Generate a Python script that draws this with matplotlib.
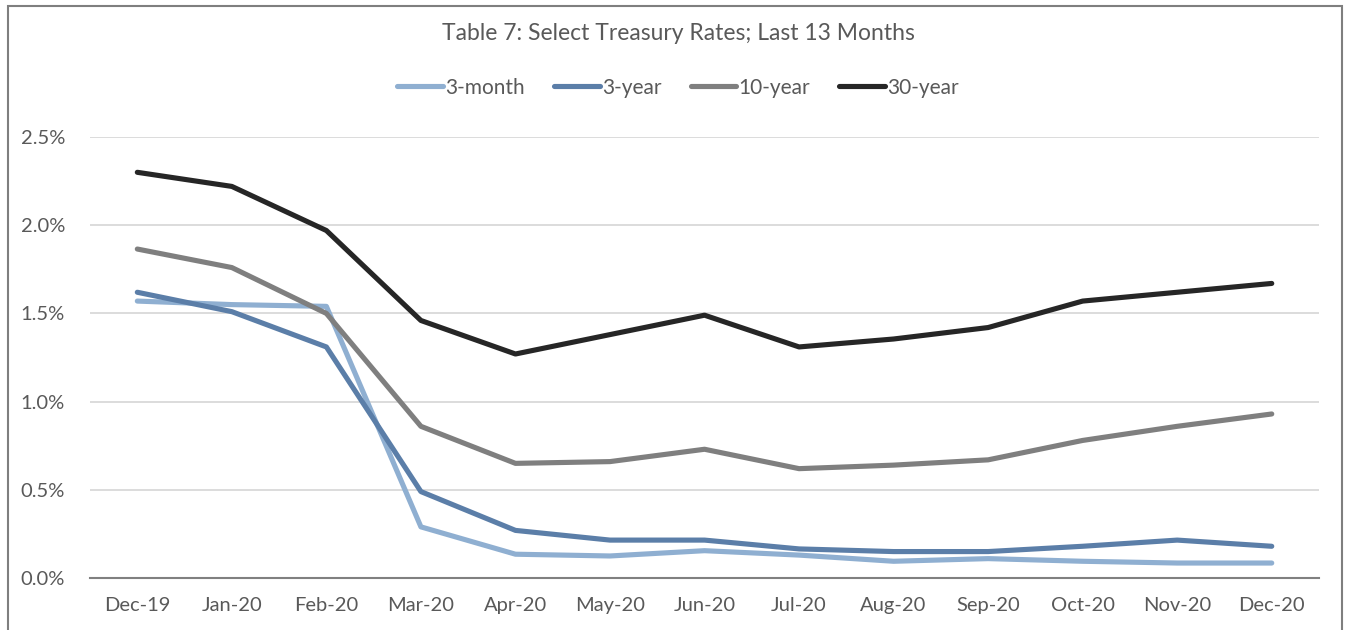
import matplotlib.pyplot as plt
from matplotlib.patches import Rectangle
from matplotlib.ticker import FuncFormatter

months = ['Dec-19', 'Jan-20', 'Feb-20', 'Mar-20', 'Apr-20', 'May-20', 'Jun-20',
          'Jul-20', 'Aug-20', 'Sep-20', 'Oct-20', 'Nov-20', 'Dec-20']

# yields in percent
rate_3m = [1.57, 1.55, 1.54, 0.29, 0.135, 0.125, 0.155, 0.13, 0.095, 0.11, 0.095, 0.085, 0.085]
rate_3y = [1.62, 1.51, 1.31, 0.49, 0.27, 0.215, 0.215, 0.165, 0.15, 0.15, 0.18, 0.215, 0.18]
rate_10y = [1.865, 1.76, 1.50, 0.86, 0.65, 0.66, 0.73, 0.62, 0.64, 0.67, 0.78, 0.86, 0.93]
rate_30y = [2.30, 2.22, 1.97, 1.46, 1.27, 1.38, 1.49, 1.31, 1.355, 1.42, 1.57, 1.62, 1.67]

series = [('3-month', rate_3m, '#8fafd1'),
          ('3-year', rate_3y, '#5b7ea8'),
          ('10-year', rate_10y, '#7f7f7f'),
          ('30-year', rate_30y, '#262626')]

plt.rcParams['font.family'] = ['Lato', 'DejaVu Sans']
text_col = '#595959'

fig = plt.figure(figsize=(13.48, 6.3), dpi=100)
ax = fig.add_axes([0.0668, 0.0825, 0.9117, 0.70])

x = list(range(len(months)))
for name, vals, col in series:
    ax.plot(x, vals, color=col, lw=3.7, label=name, solid_capstyle='round')

ax.set_xlim(-0.5, len(months) - 0.5)
ax.set_ylim(0, 2.5)
ax.set_yticks([0, 0.5, 1.0, 1.5, 2.0, 2.5])
ax.yaxis.set_major_formatter(FuncFormatter(lambda v, p: '{:.1f}%'.format(v)))
ax.set_xticks(x)
ax.set_xticklabels(months)
ax.tick_params(axis='both', length=0, labelsize=14.5, colors=text_col)
ax.tick_params(axis='y', pad=18)
ax.tick_params(axis='x', pad=14)

ax.grid(axis='y', color='#d9d9d9', lw=1.3)
ax.set_axisbelow(True)
for s in ['top', 'right', 'left']:
    ax.spines[s].set_visible(False)
ax.spines['bottom'].set_color('#808080')
ax.spines['bottom'].set_linewidth(1.5)
ax.spines['bottom'].set_zorder(3)

fig.text(0.503, 0.947, 'Table 7: Select Treasury Rates; Last 13 Months',
         ha='center', va='center', fontsize=16.5, color=text_col)

leg = fig.legend(loc='center', bbox_to_anchor=(0.503, 0.861), ncol=4, frameon=False,
                 fontsize=15, handlelength=2.2, handletextpad=0.1, columnspacing=1.4)
for t in leg.get_texts():
    t.set_color(text_col)

# outer frame around the chart
fig.patches.append(Rectangle((8 / 1348, -0.05), 1334 / 1348, 1.04, transform=fig.transFigure,
                             fill=False, edgecolor='#7f7f7f', lw=1.5))

fig.savefig('out.png', dpi=100, facecolor='white')
